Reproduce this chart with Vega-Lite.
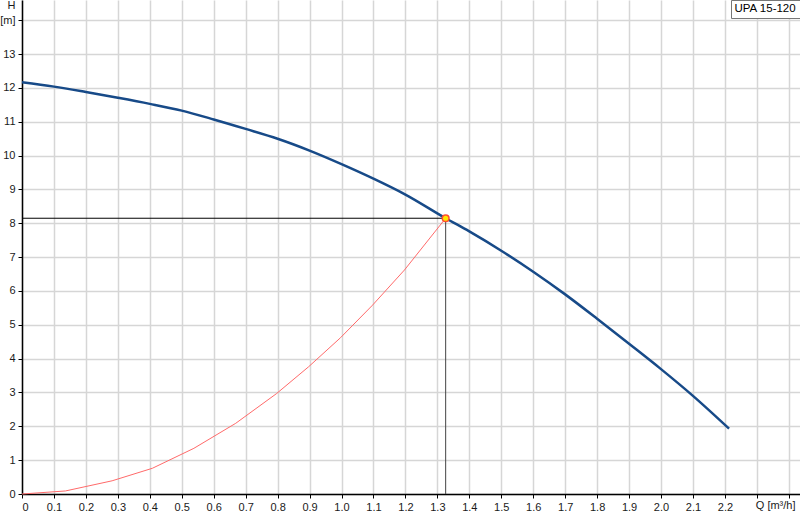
{
  "$schema": "https://vega.github.io/schema/vega-lite/v6.json",
  "width": 778,
  "height": 494,
  "autosize": {"type": "none"},
  "padding": {"left": 22, "top": 0, "right": 0, "bottom": 26},
  "background": "white",
  "config": {
    "view": {"stroke": null},
    "font": "Liberation Sans",
    "axis": {
      "labelFont": "Liberation Sans",
      "labelFontSize": 11,
      "labelColor": "#1a1a1a",
      "titleFont": "Liberation Sans",
      "titleFontSize": 11,
      "titleFontWeight": "normal",
      "titleColor": "#1a1a1a",
      "gridColor": "#d6d6d6",
      "gridWidth": 1.5,
      "domainColor": "#000000",
      "domainWidth": 1.5,
      "tickColor": "#000000",
      "tickSize": 4
    }
  },
  "datasets": {
    "pump": [
      {"Q": 0.0, "H": 12.17, "curve": "UPA 15-120"},
      {"Q": 0.1, "H": 12.04, "curve": "UPA 15-120"},
      {"Q": 0.2, "H": 11.88, "curve": "UPA 15-120"},
      {"Q": 0.3, "H": 11.71, "curve": "UPA 15-120"},
      {"Q": 0.4, "H": 11.53, "curve": "UPA 15-120"},
      {"Q": 0.5, "H": 11.33, "curve": "UPA 15-120"},
      {"Q": 0.6, "H": 11.07, "curve": "UPA 15-120"},
      {"Q": 0.7, "H": 10.79, "curve": "UPA 15-120"},
      {"Q": 0.8, "H": 10.5, "curve": "UPA 15-120"},
      {"Q": 0.9, "H": 10.15, "curve": "UPA 15-120"},
      {"Q": 1.0, "H": 9.75, "curve": "UPA 15-120"},
      {"Q": 1.1, "H": 9.32, "curve": "UPA 15-120"},
      {"Q": 1.2, "H": 8.85, "curve": "UPA 15-120"},
      {"Q": 1.326, "H": 8.15, "curve": "UPA 15-120"},
      {"Q": 1.4, "H": 7.76, "curve": "UPA 15-120"},
      {"Q": 1.5, "H": 7.19, "curve": "UPA 15-120"},
      {"Q": 1.6, "H": 6.57, "curve": "UPA 15-120"},
      {"Q": 1.7, "H": 5.9, "curve": "UPA 15-120"},
      {"Q": 1.8, "H": 5.18, "curve": "UPA 15-120"},
      {"Q": 1.9, "H": 4.44, "curve": "UPA 15-120"},
      {"Q": 2.0, "H": 3.69, "curve": "UPA 15-120"},
      {"Q": 2.1, "H": 2.9, "curve": "UPA 15-120"},
      {"Q": 2.213, "H": 1.93, "curve": "UPA 15-120"}
    ],
    "system": [
      {"Q": 0.0, "H": 0.0},
      {"Q": 0.136, "H": 0.09},
      {"Q": 0.282, "H": 0.39},
      {"Q": 0.408, "H": 0.76},
      {"Q": 0.538, "H": 1.35},
      {"Q": 0.669, "H": 2.09},
      {"Q": 0.797, "H": 2.97},
      {"Q": 0.897, "H": 3.76},
      {"Q": 0.997, "H": 4.62},
      {"Q": 1.097, "H": 5.58},
      {"Q": 1.197, "H": 6.62},
      {"Q": 1.326, "H": 8.15}
    ],
    "op": [
      {"Q": 1.326, "H": 8.15}
    ]
  },
  "encoding": {
    "x": {
      "field": "Q",
      "type": "quantitative",
      "scale": {"domain": [0, 2.435], "nice": false, "zero": false},
      "axis": {
        "values": [0, 0.1, 0.2, 0.3, 0.4, 0.5, 0.6, 0.7, 0.8, 0.9, 1.0, 1.1, 1.2, 1.3, 1.4, 1.5, 1.6, 1.7, 1.8, 1.9, 2.0, 2.1, 2.2, 2.3, 2.4],
        "labelExpr": "datum.value == 0 ? '0' : datum.value > 2.25 ? '' : format(datum.value, '.1f')",
        "labelPadding": 3,
        "title": "Q [m³/h]",
        "titleAlign": "right",
        "titleBaseline": "middle",
        "titleX": 773,
        "titleY": 11,
        "titlePadding": 0
      }
    },
    "y": {
      "field": "H",
      "type": "quantitative",
      "scale": {"domain": [0, 14.6], "nice": false},
      "axis": {
        "values": [0, 1, 2, 3, 4, 5, 6, 7, 8, 9, 10, 11, 12, 13, 14],
        "labelExpr": "datum.value == 14 ? '[m]' : datum.label",
        "labelPadding": 3,
        "title": "H",
        "titleAngle": 0,
        "titleAlign": "center",
        "titleBaseline": "middle",
        "titleX": -11,
        "titleY": 5
      }
    }
  },
  "layer": [
    {
      "data": {"name": "op"},
      "mark": {"type": "rule", "color": "#000000", "strokeWidth": 1},
      "encoding": {
        "x": {"datum": 0, "type": "quantitative"},
        "x2": {"field": "Q"},
        "y": {"field": "H", "type": "quantitative"}
      }
    },
    {
      "data": {"name": "op"},
      "mark": {"type": "rule", "color": "#444444", "strokeWidth": 1},
      "encoding": {
        "x": {"field": "Q", "type": "quantitative"},
        "y": {"datum": 0, "type": "quantitative"},
        "y2": {"field": "H"}
      }
    },
    {
      "data": {"name": "system"},
      "mark": {"type": "line", "color": "#ff6a6a", "strokeWidth": 1}
    },
    {
      "data": {"name": "pump"},
      "mark": {"type": "line", "strokeWidth": 2.5, "interpolate": "monotone"},
      "encoding": {
        "color": {
          "field": "curve",
          "type": "nominal",
          "scale": {"range": ["#174a88"]},
          "legend": {
            "title": null,
            "orient": "top-right",
            "offset": 0,
            "padding": 3,
            "strokeColor": "#777777",
            "fillColor": "#ffffff",
            "symbolType": "circle",
            "symbolSize": 0,
            "symbolOpacity": 0,
            "symbolStrokeWidth": 0,
            "labelOffset": -11,
            "labelFont": "Liberation Sans",
            "labelFontSize": 11.5,
            "labelColor": "#000000"
          }
        }
      }
    },
    {
      "data": {"name": "op"},
      "mark": {"type": "point", "filled": true, "fill": "#ffe600", "stroke": "#ff4d2e", "strokeWidth": 1.5, "size": 45, "opacity": 1}
    }
  ]
}
